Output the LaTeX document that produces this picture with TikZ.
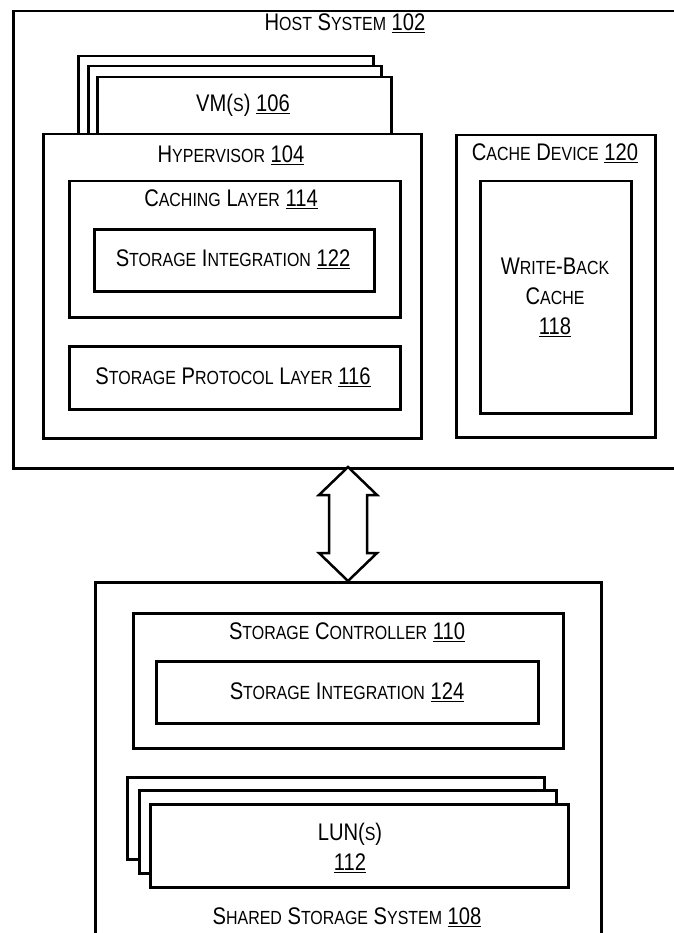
\documentclass[tikz,border=0pt]{standalone}
\usepackage{fontspec}
\setmainfont{Liberation Sans}[FakeStretch=0.84]
\newcommand\lc[1]{{\fontsize{19pt}{19pt}\selectfont #1}}
\newcommand\refn[1]{\underline{#1}}
\begin{document}
\begin{tikzpicture}[x=1pt,y=-1pt,
  every node/.style={font=\fontsize{24pt}{30pt}\selectfont, inner sep=0pt},
  box/.style={draw, line width=2.5pt, fill=white, anchor=north west, rectangle},
  blockarr/.style={draw, line width=2.5pt, fill=white, line join=miter}]
\useasboundingbox (0,0) rectangle (673,933);
% host
\node[box, minimum width=673pt, minimum height=457pt] (host) at (12,10) {};
\node (hostlbl) at (345,23) {H\lc{OST} S\lc{YSTEM} \refn{102}};
% VMs
\node[box, minimum width=295pt, minimum height=78pt] (vm3) at (77,55) {};
\node[box, minimum width=293pt, minimum height=68pt] (vm2) at (87,65) {};
\node[box, minimum width=294pt, minimum height=57pt] (vm1) at (96,76) {};
\node (vmlbl) at (243,105) {VM(\lc{S}) \refn{106}};
% hypervisor
\node[box, minimum width=378pt, minimum height=304pt] (hyp) at (42,133) {};
\node (hyplbl) at (231,155) {H\lc{YPERVISOR} \refn{104}};
\node[box, minimum width=331pt, minimum height=136pt] (cl) at (68,180) {};
\node (cllbl) at (231,199) {C\lc{ACHING} L\lc{AYER} \refn{114}};
\node[box, minimum width=280pt, minimum height=62pt] (si1) at (93,228) {};
\node (si1lbl) at (233,259) {S\lc{TORAGE} I\lc{NTEGRATION} \refn{122}};
\node[box, minimum width=331pt, minimum height=63pt] (spl) at (68,345) {};
\node (spllbl) at (233,377) {S\lc{TORAGE} P\lc{ROTOCOL} L\lc{AYER} \refn{116}};
% cache device
\node[box, minimum width=199pt, minimum height=302pt] (cd) at (455,134) {};
\node (cdlbl) at (555,153) {C\lc{ACHE} D\lc{EVICE} \refn{120}};
\node[box, minimum width=151pt, minimum height=232pt] (wb) at (479,180) {};
\node[align=center] (wblbl) at (555,297) {W\lc{RITE}-B\lc{ACK}\\C\lc{ACHE}\\\refn{118}};
% shared storage
\node[box, minimum width=506pt, minimum height=400pt] (shared) at (94,581) {};
\node[box, minimum width=430pt, minimum height=135pt] (sc) at (132,612) {};
\node (sclbl) at (347,632) {S\lc{TORAGE} C\lc{ONTROLLER} \refn{110}};
\node[box, minimum width=382pt, minimum height=62pt] (si2) at (155,660) {};
\node (si2lbl) at (347,692) {S\lc{TORAGE} I\lc{NTEGRATION} \refn{124}};
\node[box, minimum width=417pt, minimum height=82pt] (lun3) at (126,776) {};
\node[box, minimum width=417pt, minimum height=83pt] (lun2) at (138,789) {};
\node[box, minimum width=418pt, minimum height=83pt] (lun1) at (149,803) {};
\node[align=center] (lunlbl) at (350,848) {LUN(\lc{S})\\\refn{112}};
\node (sharedlbl) at (347,917) {S\lc{HARED} S\lc{TORAGE} S\lc{YSTEM} \refn{108}};
% arrow
\coordinate (atop) at (348,467);
\coordinate (abot) at (348,581);
\draw[blockarr] (atop) -- ++(29,28) -- ++(-10,0) -- ++(0,58) -- ++(10,0) -- (abot)
  -- ++(-29,-28) -- ++(10,0) -- ++(0,-58) -- ++(-10,0) -- cycle;
\end{tikzpicture}
\end{document}
